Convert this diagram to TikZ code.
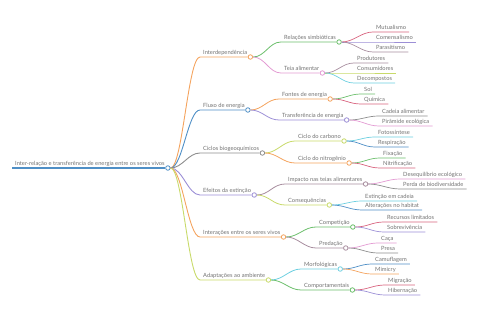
\documentclass[tikz,border=0pt]{standalone}
\usepackage{fontspec}
\setmainfont{Lato}
\usepackage{tikz}
\usetikzlibrary{positioning, calc}

\definecolor{corange}{HTML}{F4A35E}
\definecolor{cblue}{HTML}{4F8FC6}
\definecolor{cgray}{HTML}{8E8E8E}
\definecolor{cpurple}{HTML}{9C8FD6}
\definecolor{cyellow}{HTML}{C8DA6A}
\definecolor{cgreen}{HTML}{6CBF6C}
\definecolor{cpink}{HTML}{E39BD3}
\definecolor{ccrimson}{HTML}{D8627E}
\definecolor{ccyan}{HTML}{6DCFE0}
\definecolor{cmauve}{HTML}{A88E9F}
\definecolor{txtgray}{HTML}{727272}

\begin{document}
\begin{tikzpicture}[
    x=1pt, y=-1pt,
    topic/.style={anchor=south west, inner xsep=3pt, inner ysep=0.8pt, text height=4.2pt, text depth=1.3pt, font=\fontsize{5.75}{6.5}\selectfont, text=txtgray},
    knot/.style={draw, circle, fill=white, minimum size=4.5pt, inner sep=0pt, line width=0.8pt},
    main/.style={line width=0.9pt},
    branch/.style={line width=0.8pt},
    leaf/.style={line width=0.7pt}
]
    \useasboundingbox (0,0) rectangle (480,320);

    % ================= ROOT =================
    \node[topic] (ROOT) at (12,168) {Inter-relação e transferência de energia entre os seres vivos};
    \node[knot, draw=cblue] (rootK) at (ROOT.south east) {};
    \draw[cblue, line width=1.8pt] (ROOT.south west) -- (rootK.west);

    % ================= MAIN TOPICS =================
    \node[topic] (INT) at (200,57) {Interdependência};
    \node[topic] (FLU) at (200,110) {Fluxo de energia};
    \node[topic] (CIC) at (200,153) {Ciclos biogeoquímicos};
    \node[topic] (EFE) at (200,195) {Efeitos da extinção};
    \node[topic] (ITR) at (200,237) {Interações entre os seres vivos};
    \node[topic] (ADA) at (200,280) {Adaptações ao ambiente};

    \node[knot, draw=corange] (intK) at (INT.south east) {};
    \node[knot, draw=cblue] (fluK) at (FLU.south east) {};
    \node[knot, draw=cgray] (cicK) at (CIC.south east) {};
    \node[knot, draw=cpurple] (efeK) at (EFE.south east) {};
    \node[knot, draw=corange] (itrK) at (ITR.south east) {};
    \node[knot, draw=cyellow] (adaK) at (ADA.south east) {};

    \draw[main, corange] (rootK.east) .. controls +(12,0) and +(-12,0) .. (INT.south west) -- (intK.west);
    \draw[main, cblue] (rootK.east) .. controls +(12,0) and +(-12,0) .. (FLU.south west) -- (fluK.west);
    \draw[main, cgray] (rootK.east) .. controls +(12,0) and +(-12,0) .. (CIC.south west) -- (cicK.west);
    \draw[main, cpurple] (rootK.east) .. controls +(12,0) and +(-12,0) .. (EFE.south west) -- (efeK.west);
    \draw[main, corange] (rootK.east) .. controls +(12,0) and +(-12,0) .. (ITR.south west) -- (itrK.west);
    \draw[main, cyellow] (rootK.east) .. controls +(12,0) and +(-12,0) .. (ADA.south west) -- (adaK.west);

    % ================= SUBTOPICS =================
    \node[topic] (rel) at (281,42) {Relações simbióticas};
    \node[topic] (teia) at (281,73) {Teia alimentar};
    \node[topic] (font) at (279,99) {Fontes de energia};
    \node[topic] (trans) at (279,120) {Transferência de energia};
    \node[topic] (carb) at (295,141) {Ciclo do carbono};
    \node[topic] (nitr) at (295,163) {Ciclo do nitrogênio};
    \node[topic] (imp) at (285,184) {Impacto nas teias alimentares};
    \node[topic] (cons) at (285,205) {Consequências};
    \node[topic] (comp) at (316,227) {Competição};
    \node[topic] (pred) at (316,248) {Predação};
    \node[topic] (morf) at (301,269) {Morfológicas};
    \node[topic] (comt) at (301,290) {Comportamentais};

    \node[knot, draw=cgreen] (relK) at (rel.south east) {};
    \node[knot, draw=cpink] (teiaK) at (teia.south east) {};
    \node[knot, draw=corange] (fontK) at (font.south east) {};
    \node[knot, draw=cpurple] (transK) at (trans.south east) {};
    \node[knot, draw=cyellow] (carbK) at (carb.south east) {};
    \node[knot, draw=corange] (nitrK) at (nitr.south east) {};
    \node[knot, draw=cmauve] (impK) at (imp.south east) {};
    \node[knot, draw=cyellow] (consK) at (cons.south east) {};
    \node[knot, draw=cgreen] (compK) at (comp.south east) {};
    \node[knot, draw=cmauve] (predK) at (pred.south east) {};
    \node[knot, draw=ccyan] (morfK) at (morf.south east) {};
    \node[knot, draw=cgreen] (comtK) at (comt.south east) {};

    \draw[branch, cgreen] (intK.east) .. controls +(12,0) and +(-12,0) .. (rel.south west) -- (relK.west);
    \draw[branch, cpink] (intK.east) .. controls +(12,0) and +(-12,0) .. (teia.south west) -- (teiaK.west);
    \draw[branch, corange] (fluK.east) .. controls +(12,0) and +(-12,0) .. (font.south west) -- (fontK.west);
    \draw[branch, cpurple] (fluK.east) .. controls +(12,0) and +(-12,0) .. (trans.south west) -- (transK.west);
    \draw[branch, cyellow] (cicK.east) .. controls +(12,0) and +(-12,0) .. (carb.south west) -- (carbK.west);
    \draw[branch, corange] (cicK.east) .. controls +(12,0) and +(-12,0) .. (nitr.south west) -- (nitrK.west);
    \draw[branch, cmauve] (efeK.east) .. controls +(12,0) and +(-12,0) .. (imp.south west) -- (impK.west);
    \draw[branch, cyellow] (efeK.east) .. controls +(12,0) and +(-12,0) .. (cons.south west) -- (consK.west);
    \draw[branch, cgreen] (itrK.east) .. controls +(12,0) and +(-12,0) .. (comp.south west) -- (compK.west);
    \draw[branch, cmauve] (itrK.east) .. controls +(12,0) and +(-12,0) .. (pred.south west) -- (predK.west);
    \draw[branch, ccyan] (adaK.east) .. controls +(12,0) and +(-12,0) .. (morf.south west) -- (morfK.west);
    \draw[branch, cgreen] (adaK.east) .. controls +(12,0) and +(-12,0) .. (comt.south west) -- (comtK.west);

    % ================= LEAVES =================
    % Interdependencia
    \node[topic] (mut) at (373,32) {Mutualismo};
    \node[topic] (come) at (373,42) {Comensalismo};
    \node[topic] (para) at (373,52) {Parasitismo};
    \node[topic] (prod) at (354,63) {Produtores};
    \node[topic] (cnsm) at (354,73) {Consumidores};
    \node[topic] (deco) at (354,83) {Decompostos};
    \draw[leaf, ccrimson] (relK.east) .. controls +(12,0) and +(-12,0) .. (mut.south west) -- (mut.south east);
    \draw[leaf, cpurple] (relK.east) .. controls +(12,0) and +(-12,0) .. (come.south west) -- (come.south east);
    \draw[leaf, cmauve] (relK.east) .. controls +(12,0) and +(-12,0) .. (para.south west) -- (para.south east);
    \draw[leaf, cmauve] (teiaK.east) .. controls +(12,0) and +(-12,0) .. (prod.south west) -- (prod.south east);
    \draw[leaf, cyellow] (teiaK.east) .. controls +(12,0) and +(-12,0) .. (cnsm.south west) -- (cnsm.south east);
    \draw[leaf, ccyan] (teiaK.east) .. controls +(12,0) and +(-12,0) .. (deco.south west) -- (deco.south east);

    % Fluxo de energia
    \node[topic] (sol) at (361,94) {Sol};
    \node[topic] (quim) at (361,104) {Química};
    \node[topic] (cade) at (379,116) {Cadeia alimentar};
    \node[topic] (pira) at (379,126) {Pirâmide ecológica};
    \draw[leaf, cgreen] (fontK.east) .. controls +(12,0) and +(-12,0) .. (sol.south west) -- (sol.south east);
    \draw[leaf, ccrimson] (fontK.east) .. controls +(12,0) and +(-12,0) .. (quim.south west) -- (quim.south east);
    \draw[leaf, cgray] (transK.east) .. controls +(12,0) and +(-12,0) .. (cade.south west) -- (cade.south east);
    \draw[leaf, cpink] (transK.east) .. controls +(12,0) and +(-12,0) .. (pira.south west) -- (pira.south east);

    % Ciclos biogeoquimicos
    \node[topic] (foto) at (375,137) {Fotossíntese};
    \node[topic] (resp) at (375,147) {Respiração};
    \node[topic] (fixa) at (380,158) {Fixação};
    \node[topic] (nitf) at (380,168) {Nitrificação};
    \draw[leaf, ccyan] (carbK.east) .. controls +(12,0) and +(-12,0) .. (foto.south west) -- (foto.south east);
    \draw[leaf, cblue] (carbK.east) .. controls +(12,0) and +(-12,0) .. (resp.south west) -- (resp.south east);
    \draw[leaf, cgreen] (nitrK.east) .. controls +(12,0) and +(-12,0) .. (fixa.south west) -- (fixa.south east);
    \draw[leaf, ccrimson] (nitrK.east) .. controls +(12,0) and +(-12,0) .. (nitf.south west) -- (nitf.south east);

    % Efeitos da extincao
    \node[topic] (dese) at (400,179) {Desequilíbrio ecológico};
    \node[topic] (perd) at (400,189) {Perda de biodiversidade};
    \node[topic] (exti) at (362,201) {Extinção em cadeia};
    \node[topic] (alte) at (362,210) {Alterações no habitat};
    \draw[leaf, cpink] (impK.east) .. controls +(12,0) and +(-12,0) .. (dese.south west) -- (dese.south east);
    \draw[leaf, cgray] (impK.east) .. controls +(12,0) and +(-12,0) .. (perd.south west) -- (perd.south east);
    \draw[leaf, ccyan] (consK.east) .. controls +(12,0) and +(-12,0) .. (exti.south west) -- (exti.south east);
    \draw[leaf, cblue] (consK.east) .. controls +(12,0) and +(-12,0) .. (alte.south west) -- (alte.south east);

    % Interacoes entre os seres vivos
    \node[topic] (recu) at (384,222) {Recursos limitados};
    \node[topic] (sobr) at (384,232) {Sobrevivência};
    \node[topic] (caca) at (378,243) {Caça};
    \node[topic] (pres) at (378,253) {Presa};
    \draw[leaf, ccrimson] (compK.east) .. controls +(12,0) and +(-12,0) .. (recu.south west) -- (recu.south east);
    \draw[leaf, cpurple] (compK.east) .. controls +(12,0) and +(-12,0) .. (sobr.south west) -- (sobr.south east);
    \draw[leaf, cpink] (predK.east) .. controls +(12,0) and +(-12,0) .. (caca.south west) -- (caca.south east);
    \draw[leaf, cgray] (predK.east) .. controls +(12,0) and +(-12,0) .. (pres.south west) -- (pres.south east);

    % Adaptacoes ao ambiente
    \node[topic] (camu) at (372,264) {Camuflagem};
    \node[topic] (mimi) at (372,274) {Mimicry};
    \node[topic] (migr) at (385,285) {Migração};
    \node[topic] (hibe) at (385,295) {Hibernação};
    \draw[leaf, cblue] (morfK.east) .. controls +(12,0) and +(-12,0) .. (camu.south west) -- (camu.south east);
    \draw[leaf, corange] (morfK.east) .. controls +(12,0) and +(-12,0) .. (mimi.south west) -- (mimi.south east);
    \draw[leaf, ccrimson] (comtK.east) .. controls +(12,0) and +(-12,0) .. (migr.south west) -- (migr.south east);
    \draw[leaf, cpurple] (comtK.east) .. controls +(12,0) and +(-12,0) .. (hibe.south west) -- (hibe.south east);

\end{tikzpicture}
\end{document}
